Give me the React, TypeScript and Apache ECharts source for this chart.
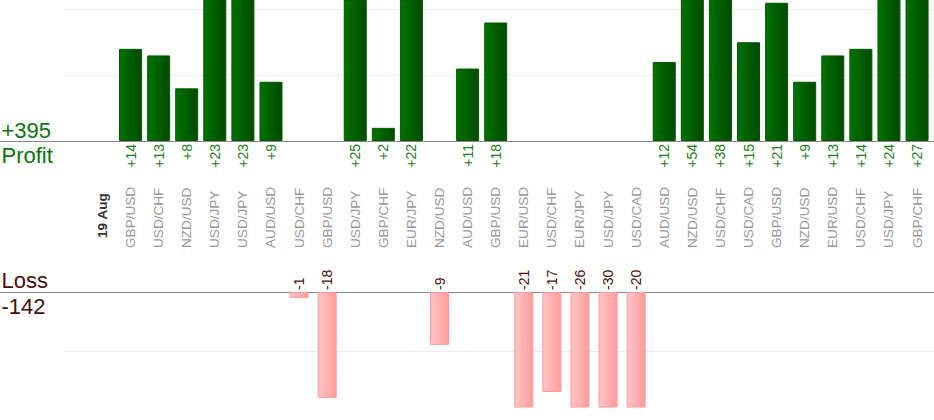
import React, { useEffect, useRef } from "react";
import * as echarts from "echarts";

const categories: string[] = [
  "19 Aug", "GBP/USD", "USD/CHF", "NZD/USD", "USD/JPY", "USD/JPY", "AUD/USD", "USD/CHF",
  "GBP/USD", "USD/JPY", "GBP/CHF", "EUR/JPY", "NZD/USD", "AUD/USD", "GBP/USD", "EUR/USD",
  "USD/CHF", "EUR/JPY", "USD/JPY", "USD/CAD", "AUD/USD", "NZD/USD", "USD/CHF", "USD/CAD",
  "GBP/USD", "NZD/USD", "EUR/USD", "USD/CHF", "USD/JPY", "GBP/CHF",
];

const profitValues: (number | null)[] = [
  null, 14, 13, 8, 23, 23, 9, null, null, 25, 2, 22, null, 11, 18, null,
  null, null, null, null, 12, 54, 38, 15, 21, 9, 13, 14, 24, 27,
];

const lossValues: (number | null)[] = [
  null, null, null, null, null, null, null, -1, -18, null, null, null, -9, null, null, -21,
  -17, -26, -30, -20, null, null, null, null, null, null, null, null, null, null,
];

const profitAxisMax = 21.42;
const lossAxisMax = 19.56;
const gridStep = 10;

const FONT = '"Liberation Sans", Arial, Helvetica, sans-serif';
const GREEN_TEXT = "#0c740c";
const LOSS_TEXT = "#4a0c0c";

export default function App() {
  const ref = useRef<HTMLDivElement>(null);

  useEffect(() => {
    document.body.style.margin = "0";
    if (!ref.current) return;
    const chart = echarts.init(ref.current, undefined, { renderer: "svg" });

    const totalProfit = profitValues.reduce((s: number, v) => s + (v ?? 0), 0);
    const totalLoss = lossValues.reduce((s: number, v) => s + (v ?? 0), 0);

    const PT = 0, PH = 141;
    const LT = 292, LH = 115;
    const BAR_LEFT = 88.4, BAR_W = 842.7;

    const hiddenCat = (gridIndex: number, position: "top" | "bottom", showLine: boolean) => ({
      type: "category",
      gridIndex,
      position,
      data: [""],
      axisLine: { show: showLine, onZero: false, lineStyle: { color: "#888", width: 1 } },
      axisTick: { show: false },
      axisLabel: { show: false },
      splitLine: { show: false },
    });

    const option: any = {
      animation: false,
      textStyle: { fontFamily: FONT },
      grid: [
        { left: 0, right: 0, top: PT, height: PH },
        { left: 63, right: 0, top: PT, height: PH },
        { left: BAR_LEFT, width: BAR_W, top: PT, height: PH },
        { left: 0, right: 0, top: LT, height: LH },
        { left: 63, right: 0, top: LT, height: LH },
        { left: BAR_LEFT, width: BAR_W, top: LT, height: LH },
      ],
      xAxis: [
        hiddenCat(0, "bottom", true),
        hiddenCat(1, "bottom", false),
        {
          type: "category",
          gridIndex: 2,
          position: "bottom",
          data: categories,
          axisLine: { show: false },
          axisTick: { show: false },
          splitLine: { show: false },
          axisLabel: {
            interval: 0,
            rotate: 90,
            align: "left",
            verticalAlign: "middle",
            margin: 107,
            color: "#999",
            fontSize: 13.6,
            fontFamily: FONT,
            formatter: (v: string, i: number) => (i === 0 ? "{d|" + v + "}" : v),
            rich: {
              d: { fontWeight: "bold", color: "#333", fontSize: 13.6, fontFamily: FONT, padding: [0, 0, 0, 10] },
            },
          },
        },
        hiddenCat(3, "top", true),
        hiddenCat(4, "top", false),
        {
          type: "category",
          gridIndex: 5,
          position: "top",
          data: categories,
          axisLine: { show: false },
          axisTick: { show: false },
          axisLabel: { show: false },
          splitLine: { show: false },
        },
      ],
      yAxis: [
        { type: "value", gridIndex: 0, min: 0, max: 1, show: false, splitLine: { show: false } },
        {
          type: "value",
          gridIndex: 1,
          min: 0,
          max: profitAxisMax,
          interval: gridStep,
          axisLine: { show: false },
          axisTick: { show: false },
          axisLabel: { show: false },
          splitLine: { show: true, showMinLine: false, showMaxLine: false, lineStyle: { color: "#ececec", width: 1 } },
        },
        { type: "value", gridIndex: 2, min: 0, max: profitAxisMax, show: false, splitLine: { show: false } },
        { type: "value", gridIndex: 3, min: 0, max: 1, show: false, splitLine: { show: false } },
        {
          type: "value",
          gridIndex: 4,
          min: 0,
          max: lossAxisMax,
          inverse: true,
          interval: gridStep,
          axisLine: { show: false },
          axisTick: { show: false },
          axisLabel: { show: false },
          splitLine: { show: true, showMinLine: false, showMaxLine: false, lineStyle: { color: "#ececec", width: 1 } },
        },
        { type: "value", gridIndex: 5, min: 0, max: lossAxisMax, inverse: true, show: false, splitLine: { show: false } },
      ],
      series: [
        {
          type: "bar",
          xAxisIndex: 2,
          yAxisIndex: 2,
          barWidth: 23,
          data: profitValues.map((v) => (v == null ? "-" : v)),
          itemStyle: {
            color: new echarts.graphic.LinearGradient(0, 0, 1, 0, [
              { offset: 0, color: "#007200" },
              { offset: 1, color: "#004a00" },
            ]),
            borderColor: "#005a00",
            borderWidth: 1,
          },
          label: {
            show: true,
            position: "bottom",
            distance: 3,
            rotate: 90,
            align: "right",
            verticalAlign: "middle",
            color: "#1a801a",
            fontSize: 14,
            fontFamily: FONT,
            formatter: (p: any) => "+" + profitValues[p.dataIndex],
          },
        },
        {
          type: "bar",
          xAxisIndex: 5,
          yAxisIndex: 5,
          barWidth: 19,
          data: lossValues.map((v) => (v == null ? "-" : Math.abs(v))),
          itemStyle: {
            color: new echarts.graphic.LinearGradient(0, 0, 1, 0, [
              { offset: 0, color: "#ffc6c6" },
              { offset: 1, color: "#ff9c9c" },
            ]),
            borderColor: "#ff9a9a",
            borderWidth: 1,
          },
          label: {
            show: true,
            position: "top",
            distance: 2,
            rotate: 90,
            align: "left",
            verticalAlign: "middle",
            color: LOSS_TEXT,
            fontSize: 14,
            fontFamily: FONT,
            formatter: (p: any) => String(lossValues[p.dataIndex]),
          },
        },
      ],
      graphic: [
        { type: "text", left: 1.5, top: 130.4 - 11, style: { text: "+" + totalProfit, fill: GREEN_TEXT, fontSize: 22, fontFamily: FONT } },
        { type: "text", left: 1.5, top: 155.7 - 11, style: { text: "Profit", fill: GREEN_TEXT, fontSize: 22, fontFamily: FONT } },
        { type: "text", left: 1.5, top: 280.7 - 11, style: { text: "Loss", fill: LOSS_TEXT, fontSize: 22, fontFamily: FONT } },
        { type: "text", left: 1.5, top: 306.4 - 11, style: { text: String(totalLoss), fill: LOSS_TEXT, fontSize: 22, fontFamily: FONT } },
      ],
    };

    chart.setOption(option);
    return () => chart.dispose();
  }, []);

  return <div ref={ref} style={{ width: 934, height: 420 }} />;
}
